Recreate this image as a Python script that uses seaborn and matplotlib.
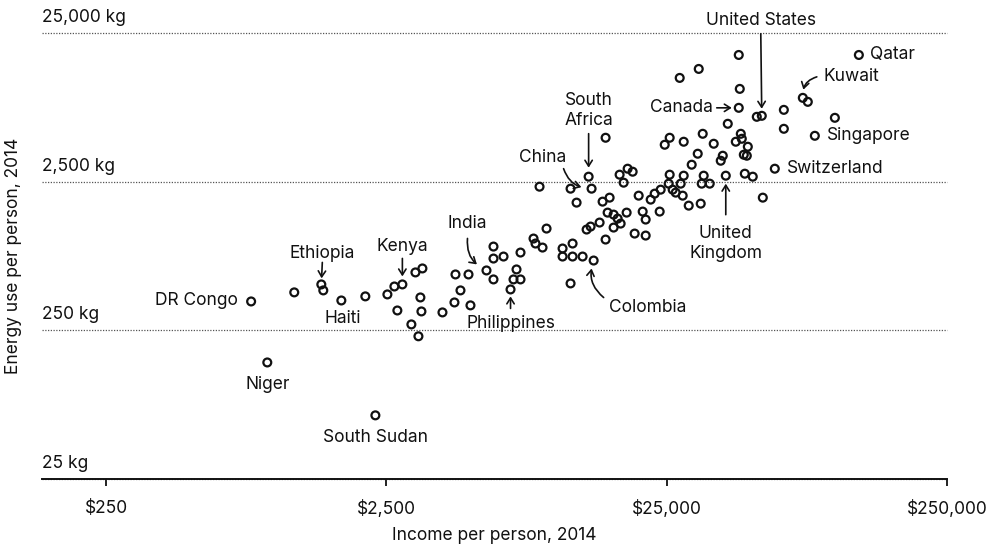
import math
import matplotlib
matplotlib.use("Agg")
import matplotlib.pyplot as plt
import seaborn as sns
import pandas as pd
from matplotlib.ticker import FixedLocator, NullLocator

# labelled countries: income per person ($) and energy use per person (kg), 2014
named_country = ["DR Congo", "Niger", "South Sudan", "Ethiopia", "Haiti", "Kenya",
                 "India", "Philippines", "Colombia", "China", "South Africa", "Canada",
                 "United States", "United Kingdom", "Switzerland", "Singapore", "Kuwait", "Qatar"]
named_income = [823, 940, 2284, 1465, 1727, 2851, 5689, 6932, 13720, 13490, 13166, 45190,
                54600, 40620, 60760, 84420, 76480, 121200]
named_energy = [391, 152, 67, 509, 397, 509, 632, 471, 737, 2243, 2701, 7845,
                6933, 2743, 3056, 5088, 9156, 17790]

# all the other countries
other_income = [1173, 1489, 2103, 2521, 2670, 3174, 3361, 2736, 3306, 3334, 3070, 3253, 3963,
                4410, 4908, 4595, 4373, 4988, 6026, 6026, 6545, 7524, 7281, 7103, 7524, 6026,
                8373, 8511, 9016, 9318, 8797, 10629, 10629, 11540, 11540, 12530, 11350, 11350,
                11925, 15136, 12950, 13381, 14408, 15136, 14767, 15643, 15389, 16167, 16710,
                17989, 17126, 16167, 16982, 18139, 18902, 17553, 19860, 21918, 22646, 23796,
                20525, 21036, 19213, 21036, 23600, 25410, 26260, 28050, 26920, 28510, 25620,
                28750, 30700, 32260, 29960, 33060, 33880, 33330, 35600, 38970, 39630, 47100,
                48280, 48680, 47490, 50700, 55060, 24600, 25620, 28750, 33610, 36790, 41290,
                45950, 46330, 44100, 27820, 32530, 45190, 45570, 52400, 65450, 65450, 79690,
                99520]
other_energy = [450, 464, 423, 436, 493, 613, 652, 340, 416, 335, 274, 228, 330,
                594, 594, 464, 385, 368, 915, 760, 784, 834, 642, 550, 550, 550,
                1036, 959, 901, 1209, 2313, 888, 784, 959, 784, 784, 517, 2243,
                1807, 4935, 1191, 1247, 1327, 1020, 1835, 1952, 1548, 1501, 1411,
                1548, 1306, 1228, 2786, 3056, 2917, 2461, 2013, 1893, 2077, 2209,
                1573, 1390, 1119, 1085, 1573, 2424, 2209, 2424, 2110, 2013, 2786,
                2743, 3251, 3854, 1725, 1779, 2743, 2424, 2424, 3457, 3736, 3794,
                3736, 4295, 2829, 2701, 1952, 4429, 4935, 4640, 5248, 4498, 6128,
                5248, 4859, 4640, 12470, 14330, 17790, 10520, 6826, 7603, 5670, 8606,
                6722]

x_ticks = [250, 2500, 25000, 250000]
x_ticklabels = [r"\$250", r"\$2,500", r"\$25,000", r"\$250,000"]
y_ticks = [25, 250, 2500, 25000]
y_ticklabels = ["25 kg", "250 kg", "2,500 kg", "25,000 kg"]

# label placement in pixels relative to the point:
# (text dx, text dy, ha, arrow tail, arrow tip, curvature)
layout = {
    "DR Congo": (-13, 1, "right", None, None, 0),
    "Niger": (0, -22, "center", None, None, 0),
    "South Sudan": (0, -22, "center", None, None, 0),
    "Haiti": (1, -18, "center", None, None, 0),
    "Ethiopia": (1, 31, "center", (1, 22), (1, 6), 0),
    "Kenya": (0, 38, "center", (0, 26), (0, 8), 0),
    "India": (-19, 47, "center", (-19, 32), (-8, 8), 0.35),
    "Philippines": (0, -34, "center", (0, -19), (0, -7), 0),
    "Colombia": (15, -47, "left", (10, -37), (-2, -8), -0.35),
    "China": (-49, 31, "center", (-28, 20), (-9, 5), 0.35),
    "South Africa": (0, 66, "center", (0, 43), (0, 9), 0),
    "Canada": (-26, 0, "right", (-22, 0), (-7, 0), 0),
    "United States": (-1, 95, "center", (-1, 82), (-1, 7), 0),
    "United Kingdom": (0, -68, "center", (0, -39), (0, -8), 0),
    "Switzerland": (12, 0, "left", None, None, 0),
    "Singapore": (12, 0, "left", None, None, 0),
    "Kuwait": (21, 21, "left", (14, 21), (-2, 8), 0.4),
    "Qatar": (11, 0, "left", None, None, 0),
}
two_line = {"South Africa": "South\nAfrica", "United Kingdom": "United\nKingdom"}

df = pd.DataFrame({
    "income": named_income + other_income,
    "energy": named_energy + other_energy,
})

sns.set_theme(style="white")
plt.rcParams["font.family"] = ["Inter", "DejaVu Sans"]
FS = 12.5
INK = "#111111"

fig = plt.figure(figsize=(9.9, 5.49), dpi=100)
ax = fig.add_axes([42 / 990, 70 / 549, 905 / 990, 446 / 549])

sns.scatterplot(data=df, x="income", y="energy", ax=ax, marker="o", s=32,
                facecolors="none", edgecolor=INK, linewidth=1.6, zorder=3)

ax.set_xscale("log")
ax.set_yscale("log")
ax.set_xlim(147.7, 250000)
ax.set_ylim(25, 25000)

for side in ["top", "right", "left"]:
    ax.spines[side].set_visible(False)
ax.spines["bottom"].set_color(INK)
ax.spines["bottom"].set_linewidth(1.4)

ax.xaxis.set_major_locator(FixedLocator(x_ticks))
ax.xaxis.set_minor_locator(NullLocator())
ax.set_xticklabels(x_ticklabels)
ax.tick_params(axis="x", direction="out", length=5, width=1.3, color=INK,
               pad=10, labelsize=FS, labelcolor=INK, bottom=True)

ax.yaxis.set_major_locator(FixedLocator(y_ticks))
ax.yaxis.set_minor_locator(NullLocator())
ax.set_yticklabels([])
ax.tick_params(axis="y", length=0)
ax.yaxis.grid(True, linestyle=(0, (1, 1.2)), color="#555555", linewidth=0.9)
for gl in ax.yaxis.get_gridlines():
    gl.set_clip_on(False)

for val, lab in zip(y_ticks, y_ticklabels):
    ax.annotate(lab, xy=(0, val), xycoords=("axes fraction", "data"),
                xytext=(0, 7), textcoords="offset pixels",
                ha="left", va="bottom", fontsize=FS, color=INK,
                annotation_clip=False)

ax.set_xlabel("Income per person, 2014", fontsize=FS, color=INK)
ax.set_ylabel("Energy use per person, 2014", fontsize=FS, color=INK)
ax.xaxis.set_label_coords(0.5, -0.108)
ax.yaxis.set_label_coords(-0.022, 0.5)

for name, xi, yi in zip(named_country, named_income, named_energy):
    tdx, tdy, ha, tail, tip, rad = layout[name]
    ax.annotate(two_line.get(name, name), xy=(xi, yi), xytext=(tdx, tdy),
                textcoords="offset pixels", ha=ha, va="center", fontsize=FS,
                color=INK, linespacing=1.2, annotation_clip=False)
    if tail is not None:
        gap = math.hypot(*tip) * 0.72  # pixels -> points
        ax.annotate("", xy=(xi, yi), xytext=tail, textcoords="offset pixels",
                    annotation_clip=False,
                    arrowprops=dict(arrowstyle="->,head_length=0.35,head_width=0.22",
                                    color=INK, lw=1.2, shrinkA=0, shrinkB=gap,
                                    connectionstyle=f"arc3,rad={rad}"))

fig.savefig("out.png", dpi=100)
